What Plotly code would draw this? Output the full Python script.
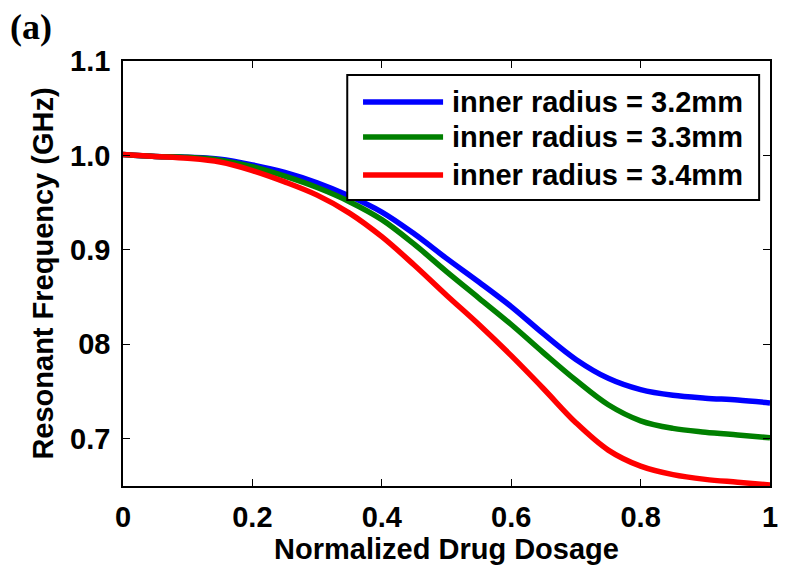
import plotly.graph_objects as go

# Normalized drug dosage (x) and resonant frequency (GHz) for three inner radii
dosage = [0, 0.05, 0.1, 0.15, 0.2, 0.25, 0.3, 0.35, 0.4, 0.45, 0.5,
          0.55, 0.6, 0.65, 0.7, 0.75, 0.8, 0.85, 0.9, 0.95, 1.0]

freq_r32 = [1.001, 0.999, 0.998, 0.996, 0.990, 0.982, 0.971, 0.957, 0.940, 0.917, 0.891,
            0.866, 0.840, 0.811, 0.784, 0.764, 0.752, 0.746, 0.743, 0.741, 0.738]
freq_r33 = [1.001, 0.999, 0.998, 0.995, 0.988, 0.978, 0.966, 0.951, 0.932, 0.906, 0.877,
            0.849, 0.821, 0.791, 0.762, 0.736, 0.719, 0.711, 0.707, 0.704, 0.701]
freq_r34 = [1.001, 0.999, 0.997, 0.993, 0.984, 0.972, 0.958, 0.939, 0.914, 0.884, 0.852,
            0.821, 0.788, 0.753, 0.717, 0.688, 0.671, 0.662, 0.657, 0.654, 0.651]

series_names = ["inner radius = 3.2mm", "inner radius = 3.3mm", "inner radius = 3.4mm"]
series_colors = ["#0000FF", "#008000", "#FF0000"]
series_values = [freq_r32, freq_r33, freq_r34]

x_ticks = [0, 0.2, 0.4, 0.6, 0.8, 1.0]
x_ticktext = ["0", "0.2", "0.4", "0.6", "0.8", "1"]
y_ticks = [0.7, 0.8, 0.9, 1.0, 1.1]
y_ticktext = ["0.7", "08", "0.9", "1.0", "1.1"]

FONT = "Liberation Sans, Arial, sans-serif"
TEXT_SIZE = 29

fig = go.Figure()
for name, color, vals in zip(series_names, series_colors, series_values):
    fig.add_trace(go.Scatter(
        x=dosage, y=vals, mode="lines", name=name,
        line=dict(color=color, width=5.5, shape="spline", smoothing=1.0),
        showlegend=False,
    ))

axis_common = dict(
    showline=True, linecolor="black", linewidth=1.5, mirror="ticks",
    ticks="inside", ticklen=7, tickwidth=1, tickcolor="black",
    showgrid=False, zeroline=False,
    tickfont=dict(family=FONT, size=TEXT_SIZE, color="black", weight="bold"),
)

fig.update_xaxes(
    range=[0, 1], tickvals=x_ticks, ticktext=x_ticktext,
    ticklabelstandoff=4,
    title=dict(text="Normalized Drug Dosage", standoff=2,
               font=dict(family=FONT, size=TEXT_SIZE, color="black", weight="bold")),
    **axis_common,
)
fig.update_yaxes(
    range=[0.65, 1.1], tickvals=y_ticks, ticktext=y_ticktext,
    ticklabelstandoff=5,
    title=dict(text="Resonant Frequency (GHz)", standoff=8,
               font=dict(family=FONT, size=TEXT_SIZE, color="black", weight="bold")),
    **axis_common,
)

# Legend box drawn in paper coordinates
box = dict(x0=0.3466, x1=0.9832, y0=0.6729, y1=0.967)
fig.add_shape(type="rect", xref="paper", yref="paper",
              x0=box["x0"], x1=box["x1"], y0=box["y0"], y1=box["y1"],
              line=dict(color="black", width=2), fillcolor="white", layer="above")
row_y = [0.9035, 0.8212, 0.7318]
for name, color, ry in zip(series_names, series_colors, row_y):
    fig.add_shape(type="line", xref="paper", yref="paper",
                  x0=0.371, x1=0.4947, y0=ry, y1=ry,
                  line=dict(color=color, width=5.5), layer="above")
    fig.add_annotation(xref="paper", yref="paper", x=0.5055, y=ry,
                       xanchor="left", yanchor="middle", showarrow=False,
                       text=name,
                       font=dict(family=FONT, size=TEXT_SIZE, color="black", weight="bold"))

# Panel label
fig.add_annotation(xref="paper", yref="paper", x=-0.178, y=1.08,
                   xanchor="left", yanchor="middle", showarrow=False,
                   text="(a)",
                   font=dict(family="Liberation Serif, Times New Roman, serif",
                             size=36, color="black", weight="bold"))

fig.update_layout(
    width=785, height=571,
    margin=dict(l=123, r=7, t=61, b=85),
    paper_bgcolor="white", plot_bgcolor="white",
    font=dict(family=FONT, color="black"),
)

fig.write_html("out.html")
